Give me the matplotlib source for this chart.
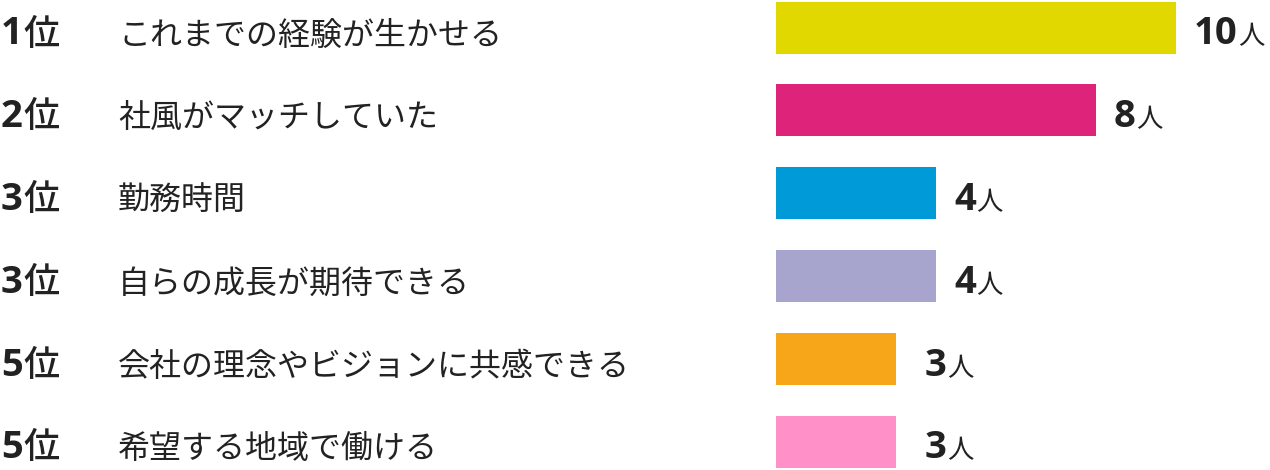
import matplotlib
matplotlib.use("Agg")
import matplotlib.pyplot as plt

plt.rcParams['font.family'] = ['Noto Sans CJK JP', 'DejaVu Sans']

ranks = ["1", "2", "3", "3", "5", "5"]
labels = ["これまでの経験が生かせる", "社風がマッチしていた", "勤務時間",
          "自らの成長が期待できる", "会社の理念やビジョンに共感できる", "希望する地域で働ける"]
values = [10, 8, 4, 4, 3, 3]
colors = ["#E1D800", "#DE237B", "#009AD9", "#A7A5CE", "#F8A619", "#FF91C8"]

# pixel layout of the reference
W, H = 1270, 470
bar_x0 = 776          # where value 0 sits
px_unit = 40          # px per person
row0 = 27.5           # centre of first row
row_step = 82.8       # px between rows
bar_h = 52 / row_step
base_off = 17 / row_step   # text baseline below row centre
label_gap = 18        # px from bar end to value label
label_min = 925       # value labels never start left of this pixel
text_col = "#222222"

fig = plt.figure(figsize=(W / 100, H / 100), dpi=100)
ax = fig.add_axes([0, 0, 1, 1])
ax.set_xlim(-bar_x0 / px_unit, (W - bar_x0) / px_unit)
ax.set_ylim((H - row0) / row_step, -row0 / row_step)
ax.axis("off")

pos = list(range(len(values)))
ax.barh(pos, values, height=bar_h, color=colors, left=0)

def px(x):
    return (x - bar_x0) / px_unit

num_font = ['Open Sans', 'Noto Sans CJK JP']
rank_txt = []
val_txt = []
for i, (r, lab, v) in enumerate(zip(ranks, labels, values)):
    y = i + base_off
    t = ax.text(px(1), y, r, fontsize=27.5, fontweight="bold", family=num_font,
                color=text_col, va="baseline", ha="left")
    rank_txt.append(t)
    ax.text(px(118), y, lab, fontsize=23, color=text_col, va="baseline", ha="left")
    lx = max(v + label_gap / px_unit, px(label_min))
    t = ax.text(lx, y, str(v), fontsize=27.5, fontweight="bold",
                family=num_font, color=text_col, va="baseline", ha="left")
    val_txt.append(t)

# unit signs go right after the numbers
fig.canvas.draw()
inv = ax.transData.inverted()
for i in pos:
    y = i + base_off
    x1 = inv.transform(rank_txt[i].get_window_extent().get_points())[1][0]
    ax.text(x1 + 1 / px_unit, y, "位", fontsize=26, fontweight="medium",
            color=text_col, va="baseline", ha="left")
    x1 = inv.transform(val_txt[i].get_window_extent().get_points())[1][0]
    ax.text(x1, y, "人", fontsize=19, color=text_col,
            va="baseline", ha="left")

fig.savefig("out.png", dpi=100)
